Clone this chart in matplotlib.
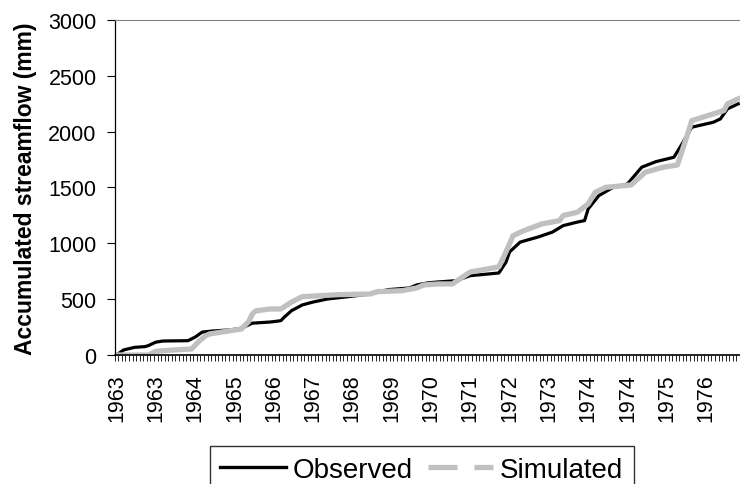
import numpy as np
import matplotlib.pyplot as plt
from matplotlib.lines import Line2D

plt.rcParams['font.family'] = ['Liberation Sans', 'DejaVu Sans']

# months since Jan 1963 (category index) and accumulated streamflow
obs_month = [0, 2, 5, 8, 9, 11, 13, 20, 22, 24, 27, 32, 35, 38, 43, 46, 47, 49, 52, 55, 59,
             64, 71, 76, 82, 84, 87, 90, 95, 99, 104, 107, 109, 110, 113, 118, 122, 125,
             129, 131, 132, 135, 139, 143, 147, 151, 156, 158, 161, 167, 169, 171, 174]
obs_flow = [0, 45, 68, 75, 85, 115, 125, 128, 160, 205, 215, 225, 240, 285, 295, 307, 340,
            397, 448, 474, 501, 519, 546, 585, 600, 627, 645, 654, 665, 710, 725, 734, 830,
            922, 1011, 1056, 1100, 1158, 1190, 1203, 1307, 1427, 1501, 1531, 1681, 1731,
            1770, 1874, 2039, 2083, 2113, 2203, 2248]

sim_month = [0, 9, 11, 16, 21, 23, 25, 26, 35, 37, 38, 39, 43, 46, 49, 52, 62, 71, 73, 80,
             84, 86, 90, 94, 99, 107, 109, 111, 114, 119, 124, 125, 129, 132, 134, 137, 144,
             148, 153, 157, 160, 161, 167, 170, 171, 174]
sim_flow = [0, 0, 33, 45, 54, 120, 173, 188, 233, 300, 367, 395, 412, 412, 474, 522, 540,
            546, 567, 576, 600, 627, 636, 636, 743, 788, 922, 1068, 1113, 1173, 1203, 1248,
            1278, 1352, 1457, 1501, 1522, 1636, 1681, 1701, 1994, 2098, 2158, 2188, 2248, 2293]

n_months = 175
label_pos = list(range(0, 166, 11))
label_txt = ['1963', '1963', '1964', '1965', '1966', '1967', '1968', '1969', '1970',
             '1971', '1972', '1973', '1974', '1974', '1975', '1976']

fig = plt.figure(figsize=(7.4, 4.85), dpi=100)
ax = fig.add_axes([0.155, 0.266, 0.845, 0.691])

ax.plot(obs_month, obs_flow, color='black', lw=2.3, solid_joinstyle='round')
ax.plot(sim_month, sim_flow, color='#c0c0c0', lw=3.8, solid_joinstyle='round')

ax.set_xlim(-0.5, n_months - 0.5)
ax.set_ylim(0, 3000)
ax.set_yticks(range(0, 3001, 500))
ax.tick_params(axis='y', labelsize=15.5, length=6, width=0.8, direction='out', pad=7)

ax.set_xticks(label_pos)
ax.set_xticklabels(label_txt, rotation=90, fontsize=15.5)
ax.tick_params(axis='x', which='major', length=0, pad=13)
ax.set_xticks(np.arange(n_months) - 0.5, minor=True)
ax.tick_params(axis='x', which='minor', length=4, width=0.6, direction='out')

ax.spines['right'].set_visible(False)
ax.spines['top'].set_color('#808080')
ax.spines['left'].set_linewidth(0.9)
ax.spines['bottom'].set_linewidth(1.2)

ax.set_ylabel('Accumulated streamflow (mm)', fontsize=16.5, fontweight='bold', labelpad=8)

handles = [Line2D([], [], color='black', lw=2.4),
           Line2D([], [], color='#c0c0c0', lw=3.8, dashes=(5.5, 3.2))]
leg = fig.legend(handles, ['Observed', 'Simulated'], loc='upper center',
                 bbox_to_anchor=(0.57, 0.078), ncol=2, fontsize=20, frameon=True,
                 fancybox=False, edgecolor='black', handlelength=2.35, handletextpad=0.25,
                 columnspacing=0.55, borderpad=0.38, borderaxespad=0)
leg.get_frame().set_linewidth(1.0)

fig.savefig('out.png', dpi=100)
